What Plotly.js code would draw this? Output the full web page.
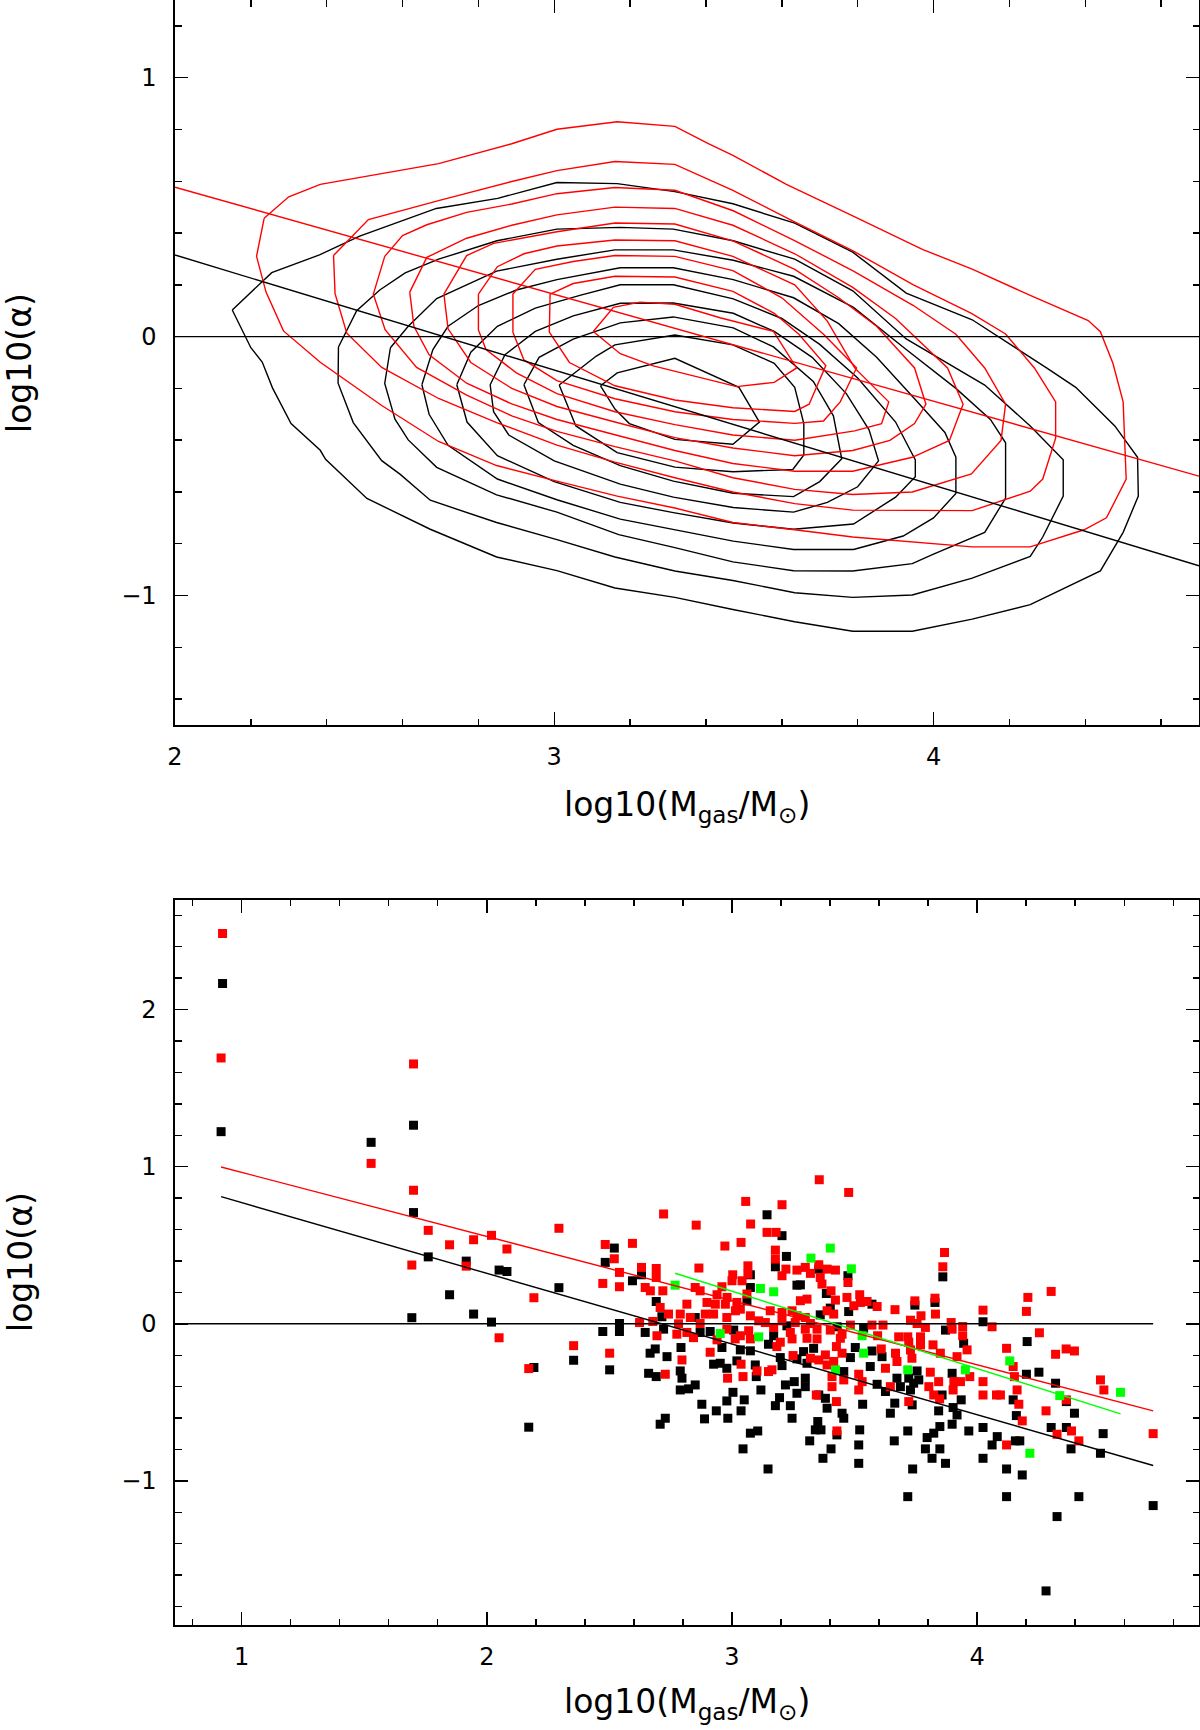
<!DOCTYPE html>
<html>
<head>
<meta charset="utf-8">
<script src="https://cdn.plot.ly/plotly-3.0.1.min.js"></script>
<style>
  html, body { margin: 0; padding: 0; background: #fff; }
  #chart { width: 1200px; height: 1730px; }
</style>
</head>
<body>
<div id="chart"></div>
<script>
// ---- top panel: contour levels, [log10 Mgas, log10 alpha]
const black1 = [[2.151,0.103],[2.255,0.247],[2.381,0.316],[2.487,0.388],[2.689,0.495],[2.851,0.534],[3.007,0.595],[3.166,0.591],[3.318,0.560],[3.471,0.513],[3.634,0.438],[3.787,0.326],[3.928,0.168],[4.102,0.065],[4.298,-0.121],[4.375,-0.196],[4.478,-0.345],[4.538,-0.466],[4.540,-0.616],[4.500,-0.756],[4.440,-0.905],[4.255,-1.035],[4.102,-1.091],[3.944,-1.138],[3.787,-1.138],[3.634,-1.101],[3.471,-1.054],[3.318,-1.007],[3.160,-0.971],[3.007,-0.904],[2.848,-0.851],[2.673,-0.744],[2.506,-0.625],[2.397,-0.474],[2.383,-0.439],[2.306,-0.336],[2.257,-0.198],[2.230,-0.098],[2.200,-0.043],[2.185,0.000],[2.151,0.103]];
const black2 = [[2.431,-0.040],[2.479,0.100],[2.540,0.180],[2.607,0.246],[2.695,0.299],[2.849,0.370],[3.007,0.415],[3.174,0.422],[3.314,0.415],[3.472,0.370],[3.634,0.299],[3.787,0.177],[3.928,-0.009],[4.135,-0.187],[4.255,-0.345],[4.342,-0.476],[4.342,-0.616],[4.288,-0.774],[4.255,-0.849],[4.102,-0.933],[3.944,-0.998],[3.787,-1.007],[3.634,-0.989],[3.471,-0.942],[3.318,-0.905],[3.160,-0.851],[3.007,-0.784],[2.848,-0.718],[2.673,-0.632],[2.594,-0.532],[2.545,-0.479],[2.470,-0.332],[2.430,-0.180],[2.431,-0.040]];
const black3 = [[2.568,-0.043],[2.615,0.040],[2.690,0.147],[2.848,0.253],[3.007,0.299],[3.160,0.335],[3.314,0.335],[3.472,0.295],[3.631,0.233],[3.789,0.113],[3.928,-0.050],[4.059,-0.200],[4.150,-0.320],[4.190,-0.410],[4.190,-0.624],[4.135,-0.756],[4.000,-0.840],[3.944,-0.877],[3.787,-0.905],[3.631,-0.904],[3.471,-0.870],[3.318,-0.815],[3.170,-0.765],[3.007,-0.678],[2.848,-0.611],[2.690,-0.505],[2.615,-0.399],[2.580,-0.319],[2.553,-0.181],[2.568,-0.043]];
const black4 = [[2.651,-0.186],[2.680,-0.050],[2.720,0.040],[2.800,0.120],[2.900,0.180],[3.007,0.220],[3.174,0.266],[3.314,0.266],[3.472,0.220],[3.631,0.150],[3.750,0.050],[3.850,-0.080],[3.950,-0.240],[4.030,-0.370],[4.059,-0.466],[4.059,-0.606],[4.000,-0.700],[3.920,-0.770],[3.789,-0.822],[3.631,-0.822],[3.472,-0.790],[3.314,-0.745],[3.174,-0.705],[3.007,-0.630],[2.850,-0.550],[2.720,-0.420],[2.670,-0.300],[2.651,-0.186]];
const black5 = [[2.743,-0.186],[2.780,-0.060],[2.850,0.040],[2.950,0.110],[3.070,0.160],[3.174,0.200],[3.314,0.200],[3.472,0.146],[3.600,0.070],[3.700,-0.030],[3.800,-0.160],[3.900,-0.330],[3.952,-0.476],[3.952,-0.541],[3.900,-0.620],[3.789,-0.724],[3.631,-0.744],[3.472,-0.720],[3.314,-0.680],[3.174,-0.640],[3.000,-0.560],[2.850,-0.460],[2.770,-0.330],[2.743,-0.186]];
const black6 = [[2.831,-0.186],[2.870,-0.070],[2.950,0.020],[3.050,0.080],[3.174,0.129],[3.314,0.130],[3.472,0.090],[3.580,0.020],[3.680,-0.080],[3.770,-0.220],[3.830,-0.360],[3.855,-0.480],[3.800,-0.580],[3.720,-0.640],[3.631,-0.678],[3.472,-0.660],[3.314,-0.620],[3.174,-0.570],[3.000,-0.480],[2.880,-0.380],[2.840,-0.290],[2.831,-0.186]];
const black7 = [[2.920,-0.186],[2.960,-0.080],[3.050,-0.010],[3.174,0.053],[3.314,0.076],[3.472,0.034],[3.578,-0.040],[3.683,-0.173],[3.736,-0.306],[3.758,-0.472],[3.700,-0.560],[3.631,-0.618],[3.472,-0.605],[3.314,-0.558],[3.174,-0.498],[3.050,-0.420],[2.958,-0.332],[2.920,-0.186]];
const black8 = [[3.013,-0.187],[3.111,-0.075],[3.160,-0.032],[3.318,0.006],[3.471,-0.032],[3.580,-0.103],[3.634,-0.196],[3.658,-0.336],[3.658,-0.457],[3.629,-0.513],[3.471,-0.522],[3.318,-0.504],[3.166,-0.448],[3.057,-0.345],[3.013,-0.187]];
const black9 = [[3.122,-0.190],[3.166,-0.140],[3.318,-0.084],[3.487,-0.196],[3.541,-0.330],[3.471,-0.416],[3.318,-0.397],[3.198,-0.336],[3.160,-0.280],[3.122,-0.190]];

const red1 = [[2.235,0.457],[2.215,0.310],[2.240,0.172],[2.286,0.022],[2.383,-0.099],[2.545,-0.266],[2.695,-0.405],[2.848,-0.498],[3.007,-0.558],[3.166,-0.616],[3.318,-0.662],[3.471,-0.718],[3.634,-0.746],[3.787,-0.774],[4.102,-0.812],[4.255,-0.812],[4.397,-0.746],[4.456,-0.700],[4.508,-0.550],[4.500,-0.252],[4.473,-0.103],[4.440,0.019],[4.408,0.062],[4.255,0.159],[4.102,0.261],[3.972,0.336],[3.787,0.466],[3.612,0.588],[3.471,0.700],[3.405,0.746],[3.318,0.812],[3.166,0.830],[3.007,0.801],[2.888,0.745],[2.695,0.668],[2.532,0.625],[2.383,0.588],[2.300,0.540],[2.235,0.457]];
const red2 = [[2.418,0.313],[2.510,0.452],[2.695,0.525],[2.888,0.599],[3.007,0.641],[3.160,0.676],[3.318,0.665],[3.471,0.565],[3.631,0.445],[3.789,0.330],[3.947,0.200],[4.100,0.090],[4.190,0.010],[4.266,-0.121],[4.322,-0.252],[4.322,-0.392],[4.288,-0.550],[4.255,-0.597],[4.102,-0.672],[3.944,-0.672],[3.787,-0.670],[3.634,-0.645],[3.471,-0.600],[3.318,-0.545],[3.160,-0.485],[3.007,-0.419],[2.848,-0.332],[2.695,-0.239],[2.545,-0.119],[2.453,0.013],[2.422,0.166],[2.418,0.313]];
const red3 = [[2.553,0.310],[2.600,0.390],[2.664,0.432],[2.769,0.480],[2.888,0.512],[3.007,0.552],[3.160,0.576],[3.318,0.565],[3.472,0.486],[3.631,0.373],[3.789,0.253],[3.947,0.120],[4.059,0.009],[4.135,-0.121],[4.190,-0.261],[4.178,-0.401],[4.100,-0.530],[3.944,-0.600],[3.787,-0.610],[3.634,-0.590],[3.471,-0.545],[3.318,-0.480],[3.160,-0.425],[3.007,-0.366],[2.888,-0.306],[2.769,-0.226],[2.637,-0.119],[2.554,0.027],[2.523,0.164],[2.553,0.310]];
const red4 = [[2.619,0.172],[2.664,0.306],[2.769,0.380],[2.888,0.430],[3.007,0.470],[3.160,0.500],[3.318,0.495],[3.471,0.430],[3.634,0.320],[3.787,0.190],[3.900,0.070],[4.037,-0.121],[4.078,-0.261],[4.042,-0.401],[3.944,-0.466],[3.787,-0.520],[3.634,-0.520],[3.471,-0.490],[3.318,-0.440],[3.160,-0.380],[3.007,-0.320],[2.888,-0.260],[2.769,-0.180],[2.670,-0.070],[2.630,0.040],[2.619,0.172]];
const red5 = [[2.709,0.164],[2.769,0.313],[2.840,0.360],[3.007,0.405],[3.160,0.439],[3.318,0.435],[3.471,0.370],[3.634,0.260],[3.750,0.150],[3.850,0.040],[3.950,-0.121],[3.980,-0.261],[3.950,-0.336],[3.885,-0.401],[3.787,-0.440],[3.634,-0.460],[3.471,-0.430],[3.318,-0.390],[3.160,-0.330],[3.007,-0.270],[2.888,-0.200],[2.780,-0.100],[2.720,0.030],[2.709,0.164]];
const red6 = [[2.800,0.164],[2.850,0.270],[2.920,0.320],[3.007,0.350],[3.160,0.373],[3.318,0.370],[3.471,0.310],[3.634,0.200],[3.720,0.060],[3.792,-0.121],[3.882,-0.252],[3.863,-0.336],[3.792,-0.364],[3.634,-0.400],[3.471,-0.380],[3.318,-0.340],[3.160,-0.290],[3.007,-0.220],[2.900,-0.140],[2.820,-0.050],[2.800,0.026],[2.800,0.164]];
const red7 = [[2.891,0.017],[2.891,0.164],[2.950,0.260],[3.050,0.290],[3.160,0.313],[3.318,0.310],[3.471,0.255],[3.600,0.150],[3.710,0.009],[3.797,-0.121],[3.754,-0.252],[3.710,-0.326],[3.634,-0.335],[3.471,-0.320],[3.318,-0.290],[3.160,-0.240],[3.007,-0.170],[2.920,-0.090],[2.891,0.017]];
const red8 = [[2.987,0.017],[2.989,0.164],[3.050,0.205],[3.160,0.233],[3.318,0.230],[3.471,0.175],[3.580,0.090],[3.645,0.009],[3.716,-0.112],[3.672,-0.261],[3.634,-0.289],[3.471,-0.275],[3.318,-0.245],[3.160,-0.190],[3.040,-0.100],[2.987,0.017]];
const red9 = [[3.103,0.020],[3.156,0.113],[3.226,0.133],[3.318,0.125],[3.437,0.073],[3.578,0.020],[3.639,-0.121],[3.580,-0.177],[3.481,-0.193],[3.261,-0.113],[3.174,-0.066],[3.103,0.020]];

const topFitBlackX = [2.0, 4.7], topFitBlackY = [0.315, -0.885];
const topFitRedX = [2.0, 4.7], topFitRedY = [0.577, -0.539];
const topZeroX = [2.0, 4.7], topZeroY = [0, 0];

// ---- bottom panel: individual objects
const blackPts = [
  [0.922,2.166],[0.916,1.223],[1.528,1.155],[1.701,1.264],[1.701,0.708],[1.761,0.426],[1.694,0.039],[1.848,0.185],
  [1.916,0.399],[1.946,0.062],[2.019,0.011],[2.050,0.342],[2.082,0.333],[2.192,-0.278],[2.171,-0.658],[2.294,0.230],[2.354,-0.232],
  [3.143,0.694],[3.204,0.561],[2.520,0.482],[2.483,0.391],[3.222,0.429],[3.177,0.363],[2.631,0.312],[3.075,0.312],[2.594,0.274],
  [3.265,0.246],[3.075,0.231],[3.061,0.146],[2.691,0.142],[2.714,0.045],[3.224,-0.013],[2.541,0.002],[2.473,-0.049],[2.541,-0.049],
  [2.646,-0.055],[2.721,-0.034],[2.850,0.040],[2.870,-0.055],[2.911,-0.049],[3.007,-0.040],[3.170,-0.076],
  [3.860,0.299],[3.354,0.348],[3.473,0.306],[3.279,0.248],[3.385,0.193],[3.571,0.125],[3.401,0.100],[3.476,0.078],[3.746,0.119],
  [3.828,0.136],[4.024,0.013],[3.871,-0.040],[3.360,0.057],[3.429,-0.019],[3.537,-0.027],[4.204,-0.113],
  [3.149,-0.130],[2.501,-0.293],[2.687,-0.160],[2.666,-0.187],[2.792,-0.151],[2.735,-0.209],[2.959,-0.151],[3.034,-0.166],
  [3.075,-0.172],[2.925,-0.257],[2.952,-0.251],[2.979,-0.283],[3.020,-0.236],[3.095,-0.262],[3.197,-0.215],[3.204,-0.266],
  [3.265,-0.223],[2.660,-0.315],[2.691,-0.336],[2.789,-0.300],[2.796,-0.346],[2.789,-0.421],[2.823,-0.414],[2.850,-0.389],
  [3.099,-0.336],[3.004,-0.436],[2.979,-0.491],[3.050,-0.484],[3.118,-0.421],[3.218,-0.389],[3.254,-0.368],[3.265,-0.442],
  [3.194,-0.470],[3.177,-0.521],[3.238,-0.521],[2.877,-0.512],[2.936,-0.554],[3.037,-0.554],[2.888,-0.605],[2.983,-0.601],
  [3.245,-0.601],[2.728,-0.601],[2.707,-0.639],[3.075,-0.696],[3.105,-0.682],[3.045,-0.796],[3.147,-0.924],
  [3.333,-0.156],[3.292,-0.177],[3.503,-0.151],[3.483,-0.215],[3.571,-0.173],[3.612,-0.209],[3.564,-0.272],[3.945,-0.124],
  [3.306,-0.251],[3.456,-0.304],[3.299,-0.346],[3.299,-0.400],[3.592,-0.385],[3.626,-0.431],[3.673,-0.346],[3.687,-0.400],
  [3.721,-0.346],[3.741,-0.378],[3.762,-0.357],[3.728,-0.421],[3.755,-0.300],[3.898,-0.315],[3.857,-0.453],[3.935,-0.484],
  [3.735,-0.516],[3.354,-0.453],[3.381,-0.474],[3.388,-0.537],[3.533,-0.512],[3.664,-0.505],[3.646,-0.569],[3.843,-0.554],
  [3.902,-0.533],[3.918,-0.580],[3.898,-0.639],[3.449,-0.569],[3.456,-0.601],[3.350,-0.622],[3.340,-0.675],[3.363,-0.675],
  [3.428,-0.707],[3.521,-0.675],[3.717,-0.682],[3.848,-0.654],[3.823,-0.696],[3.796,-0.724],[3.966,-0.682],[4.024,-0.660],
  [4.082,-0.718],[4.061,-0.771],[3.317,-0.745],[3.662,-0.745],[3.517,-0.771],[3.789,-0.796],[3.848,-0.796],[3.404,-0.796],
  [3.371,-0.856],[3.517,-0.888],[3.816,-0.856],[3.871,-0.888],[4.024,-0.856],[3.737,-0.924],[3.717,-1.100],
  [4.201,-0.321],[4.252,-0.308],[4.320,-0.378],[4.147,-0.484],[4.364,-0.495],[4.397,-0.569],[4.160,-0.584],[4.302,-0.660],
  [4.364,-0.660],[4.514,-0.699],[4.156,-0.745],[4.174,-0.745],[4.383,-0.796],[4.503,-0.824],[4.120,-0.924],[4.184,-0.962],
  [4.120,-1.100],[4.415,-1.100],[4.718,-1.157],[4.326,-1.227],[4.281,-1.700]
];
const redPts = [
  [0.922,2.485],[0.916,1.692],[1.528,1.021],[1.701,1.654],[1.701,0.850],[1.761,0.595],[1.694,0.374],[1.848,0.503],
  [1.916,0.367],[1.946,0.535],[2.019,0.563],[2.050,-0.089],[2.082,0.476],[2.192,0.166],[2.171,-0.285],[2.294,0.608],[2.354,-0.139],
  [3.056,0.779],[3.204,0.758],[2.721,0.699],[2.854,0.628],[3.076,0.635],[3.143,0.582],[3.180,0.582],[2.483,0.505],[2.594,0.512],
  [2.971,0.495],[3.037,0.518],[2.520,0.414],[3.177,0.469],[3.177,0.412],[2.865,0.355],[2.631,0.359],[2.691,0.352],[2.541,0.327],
  [2.691,0.295],[3.065,0.369],[3.065,0.316],[3.003,0.312],[3.265,0.342],[3.220,0.348],[3.204,0.306],[3.000,0.274],[3.041,0.274],
  [2.473,0.257],[2.541,0.236],[2.646,0.231],[2.667,0.210],[2.718,0.210],[2.850,0.231],[2.870,0.210],[2.959,0.236],[3.061,0.190],
  [2.939,0.185],[2.980,0.168],[2.898,0.136],[2.932,0.125],[2.973,0.125],[3.020,0.136],[3.034,0.093],[2.816,0.125],[2.707,0.104],
  [2.741,0.062],[2.789,0.062],[2.830,0.040],[2.891,0.062],[2.925,0.062],[2.979,0.040],[3.014,0.083],[3.075,0.051],[3.109,0.019],
  [3.156,0.083],[3.204,0.072],[3.245,0.083],[3.265,0.051],[3.204,0.019],[3.136,0.008],[2.623,0.008],[2.677,0.015],[2.694,-0.076],
  [2.782,0.000],[2.775,-0.066],[2.816,-0.055],[2.870,0.002],[2.979,-0.034],[3.034,-0.076],[3.068,-0.044],[3.170,-0.023],
  [3.238,-0.055],[3.258,0.008],
  [3.356,0.917],[3.476,0.836],[3.867,0.454],[3.860,0.363],[3.299,0.359],[3.354,0.376],[3.388,0.348],[3.422,0.342],[3.320,0.321],
  [3.473,0.263],[3.360,0.295],[3.367,0.253],[3.404,0.210],[3.306,0.157],[3.279,0.147],[3.422,0.151],[3.469,0.168],[3.521,0.185],
  [3.524,0.136],[3.551,0.142],[3.592,0.110],[3.497,0.115],[3.388,0.083],[3.415,0.062],[3.665,0.090],[3.746,0.146],[3.828,0.163],
  [3.830,0.062],[3.771,0.051],[3.728,0.023],[3.755,0.002],[3.789,-0.023],[4.024,0.087],[4.061,-0.019],[3.894,0.008],[3.898,-0.034],
  [3.941,-0.017],[3.941,-0.076],[3.299,0.040],[3.320,0.002],[3.299,-0.034],[3.347,-0.034],[3.401,-0.040],[3.449,-0.066],
  [3.483,-0.008],[3.571,-0.008],[3.616,-0.008],[3.594,-0.076],[3.680,-0.083],[3.717,-0.083],[3.769,-0.083],
  [4.302,0.206],[4.207,0.168],[4.201,0.079],[4.254,-0.057],
  [2.843,-0.088],[2.939,-0.102],[3.013,-0.096],[3.075,-0.096],[3.183,-0.145],[3.197,-0.117],[3.245,-0.096],[2.501,-0.187],
  [2.796,-0.230],[2.911,-0.181],[3.037,-0.257],[3.102,-0.300],[3.149,-0.304],[3.163,-0.293],[3.249,-0.202],[2.728,-0.321],
  [2.982,-0.346],[3.045,-0.336],
  [3.306,-0.092],[3.347,-0.096],[3.442,-0.092],[3.320,-0.219],[3.354,-0.230],[3.381,-0.198],[3.388,-0.262],[3.415,-0.240],
  [3.426,-0.145],[3.449,-0.187],[3.609,-0.160],[3.626,-0.283],[3.667,-0.187],[3.673,-0.240],[3.728,-0.166],[3.721,-0.117],
  [3.734,-0.219],[3.769,-0.134],[3.820,-0.134],[3.850,-0.187],[3.918,-0.209],[3.959,-0.166],[3.408,-0.336],[3.456,-0.357],
  [3.408,-0.400],[3.517,-0.321],[3.531,-0.368],[3.517,-0.421],[3.646,-0.400],[3.809,-0.308],[3.843,-0.368],[3.803,-0.400],
  [3.905,-0.368],[3.932,-0.368],[3.902,-0.421],[3.970,-0.336],[4.024,-0.368],[4.024,-0.453],[4.079,-0.453],[3.823,-0.453],
  [3.847,-0.478],[3.721,-0.495],[3.344,-0.453],[3.426,-0.495],[3.428,-0.682],
  [4.120,-0.156],[4.320,-0.194],[4.363,-0.160],[4.397,-0.173],[4.147,-0.272],[4.152,-0.336],[4.095,-0.453],[4.163,-0.421],
  [4.170,-0.512],[4.364,-0.484],[4.503,-0.357],[4.517,-0.421],[4.281,-0.554],[4.184,-0.618],[4.326,-0.703],[4.385,-0.682],
  [4.718,-0.699],[4.415,-0.745],[4.120,-0.771]
];
const greenPts = [
  [2.768,0.246],[3.116,0.225],[3.170,0.204],[2.952,-0.062],[3.109,-0.083],[3.401,0.482],[3.322,0.418],[3.487,0.350],
  [3.531,-0.076],[3.537,-0.187],[3.422,-0.293],[3.717,-0.293],[3.952,-0.293],[4.133,-0.236],[4.337,-0.457],[4.585,-0.436],[4.215,-0.824]
];

const botFitBlackX = [0.916, 4.718], botFitBlackY = [0.809, -0.902];
const botFitRedX = [0.916, 4.718], botFitRedY = [0.998, -0.554];
const botFitGreenX = [2.768, 4.585], botFitGreenY = [0.322, -0.573];
const botZeroX = [0.728, 4.718], botZeroY = [0, 0];

const xTitle = 'log10(M<sub>gas</sub>/M<sub>⊙</sub>)';
const yTitle = 'log10(α)';

// ---------------------------------------------------------------
const FONT = 'DejaVu Sans, sans-serif';
const W = 1200, H = 1730;

function path(pts, color, xa, ya) {
  return {
    x: pts.map(p => p[0]),
    y: pts.map(p => p[1]),
    xaxis: xa, yaxis: ya,
    mode: 'lines', type: 'scatter',
    line: { color: color, width: 1.4 },
    hoverinfo: 'skip', showlegend: false
  };
}

function line(x, y, color, xa, ya) {
  return {
    x: x, y: y, xaxis: xa, yaxis: ya,
    mode: 'lines', type: 'scatter',
    line: { color: color, width: 1.4 },
    hoverinfo: 'skip', showlegend: false
  };
}

function squares(pts, color) {
  return {
    x: pts.map(p => p[0]),
    y: pts.map(p => p[1]),
    xaxis: 'x2', yaxis: 'y2',
    mode: 'markers', type: 'scatter',
    marker: { symbol: 'square', size: 9, color: color, line: { width: 0 } },
    showlegend: false
  };
}

let data = [];

[black1, black2, black3, black4, black5, black6, black7, black8, black9].forEach(c => {
  data.push(path(c, '#000000', 'x', 'y'));
});
[red1, red2, red3, red4, red5, red6, red7, red8, red9].forEach(c => {
  data.push(path(c, '#ff0000', 'x', 'y'));
});
data.push(line(topZeroX, topZeroY, '#000000', 'x', 'y'));
data.push(line(topFitBlackX, topFitBlackY, '#000000', 'x', 'y'));
data.push(line(topFitRedX, topFitRedY, '#ff0000', 'x', 'y'));

data.push(squares(blackPts, '#000000'));
data.push(squares(redPts, '#ff0000'));
data.push(squares(greenPts, '#00ff00'));
data.push(line(botZeroX, botZeroY, '#000000', 'x2', 'y2'));
data.push(line(botFitBlackX, botFitBlackY, '#000000', 'x2', 'y2'));
data.push(line(botFitRedX, botFitRedY, '#ff0000', 'x2', 'y2'));
data.push(line(botFitGreenX, botFitGreenY, '#00ff00', 'x2', 'y2'));

function axis(extra) {
  let a = {
    showline: true, linecolor: '#000', linewidth: 1.6, mirror: 'ticks',
    ticks: 'inside', ticklen: 13, tickwidth: 1.4, tickcolor: '#000',
    dtick: 1, tick0: 0,
    minor: { dtick: 0.2, ticks: 'inside', ticklen: 6.5, tickwidth: 1.4, tickcolor: '#000', showgrid: false },
    showgrid: false, zeroline: false,
    tickfont: { family: FONT, size: 24, color: '#000' },
    fixedrange: true
  };
  return Object.assign(a, extra);
}

const xDom = [175 / W, 1199 / W];

const layout = {
  width: W, height: H,
  margin: { l: 0, r: 0, t: 0, b: 0, autoexpand: false },
  paper_bgcolor: '#fff', plot_bgcolor: '#fff',
  font: { family: FONT, color: '#000' },
  showlegend: false,
  xaxis: axis({ domain: xDom, anchor: 'y', range: [2, 4.7], ticklabelstandoff: 10 }),
  yaxis: axis({ domain: [1 - 725 / H, 1], anchor: 'x', range: [-1.5, 1.3], ticklabelstandoff: 12 }),
  xaxis2: axis({ domain: xDom, anchor: 'y2', range: [0.728, 4.905], ticklabelstandoff: 10 }),
  yaxis2: axis({ domain: [1 - 1625 / H, 1 - 899.6 / H], anchor: 'x2', range: [-1.917, 2.70], ticklabelstandoff: 12 }),
  annotations: [
    { text: xTitle, xref: 'paper', yref: 'paper', x: 687 / W, y: 1 - 807 / H,
      xanchor: 'center', yanchor: 'middle', showarrow: false, font: { family: FONT, size: 33 } },
    { text: xTitle, xref: 'paper', yref: 'paper', x: 687 / W, y: 1 - 1703 / H,
      xanchor: 'center', yanchor: 'middle', showarrow: false, font: { family: FONT, size: 33 } },
    { text: yTitle, xref: 'paper', yref: 'paper', x: 20 / W, y: 1 - 363 / H, textangle: -90,
      xanchor: 'center', yanchor: 'middle', showarrow: false, font: { family: FONT, size: 33 } },
    { text: yTitle, xref: 'paper', yref: 'paper', x: 20 / W, y: 1 - 1262 / H, textangle: -90,
      xanchor: 'center', yanchor: 'middle', showarrow: false, font: { family: FONT, size: 33 } }
  ]
};

Plotly.newPlot('chart', data, layout, { displayModeBar: false, staticPlot: true });
</script>
</body>
</html>
